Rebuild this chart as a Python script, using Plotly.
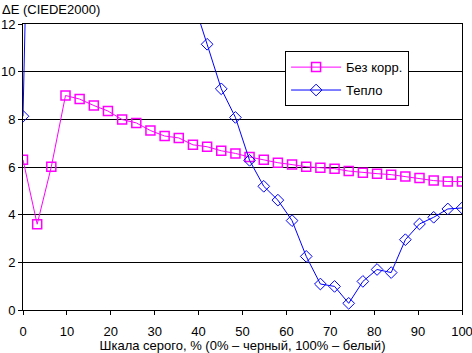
import plotly.graph_objects as go

x_gray = [0, 3.23, 6.45, 9.68, 12.9, 16.13, 19.35, 22.58, 25.81, 29.03, 32.26, 35.48,
          38.71, 41.94, 45.16, 48.39, 51.61, 54.84, 58.06, 61.29, 64.52, 67.74, 70.97,
          74.19, 77.42, 80.65, 83.87, 87.1, 90.32, 93.55, 96.77, 100]

bez_korr = [6.30, 3.60, 6.01, 9.00, 8.85, 8.58, 8.35, 7.99, 7.85, 7.53, 7.30, 7.22,
            6.93, 6.85, 6.68, 6.57, 6.42, 6.30, 6.18, 6.10, 6.01, 5.97, 5.93, 5.83,
            5.76, 5.72, 5.68, 5.60, 5.54, 5.43, 5.39, 5.39]

teplo = [8.13, 35.0, 33.0, 31.0, 29.0, 27.0, 25.0, 23.0, 21.0, 19.0, 17.0, 15.0,
         13.0, 11.15, 9.28, 8.08, 6.28, 5.19, 4.61, 3.75, 2.25, 1.09, 0.99, 0.28,
         1.20, 1.70, 1.57, 2.95, 3.61, 3.89, 4.24, 4.28]

names = ["Без корр.", "Тепло"]
y_title = "ΔE (CIEDE2000)"
x_title = "Шкала серого, % (0% – черный, 100% – белый)"

FONT = "Liberation Sans, Arial, sans-serif"

fig = go.Figure()
fig.add_trace(go.Scatter(
    x=x_gray, y=bez_korr, name=names[0], mode="lines+markers",
    line=dict(color="#FF00FF", width=1),
    marker=dict(symbol="square-open", size=9, color="#FF00FF", line=dict(width=1.5)),
    legendgroup="a"))
fig.add_trace(go.Scatter(
    x=x_gray, y=teplo, name=names[1], mode="lines+markers",
    line=dict(color="#0000FF", width=1),
    marker=dict(symbol="diamond-open", size=9, color="#0000FF", line=dict(width=1)),
    legendgroup="b"))

fig.update_layout(
    width=472, height=353,
    margin=dict(l=23, r=10, t=24, b=43, autoexpand=False),
    paper_bgcolor="white", plot_bgcolor="white",
    font=dict(family=FONT, size=13, color="black"),
    showlegend=True,
    legend=dict(x=0.597, y=0.905, xanchor="left", yanchor="top",
                bordercolor="black", borderwidth=1, bgcolor="white",
                font=dict(family=FONT, size=13, color="black"),
                tracegroupgap=3, traceorder="grouped", itemwidth=50),
    xaxis=dict(range=[0, 100], tickmode="array", tickvals=list(range(0, 101, 10)),
               showgrid=False, zeroline=False, showline=True, linecolor="black",
               linewidth=1, mirror=True, ticks="outside", ticklen=4, tickcolor="black",
               ticklabelstandoff=5, automargin=False, ticklabeloverflow="allow",
               title=dict(text=x_title, font=dict(family=FONT, size=13), standoff=10)),
    yaxis=dict(range=[0, 12], tickmode="array", tickvals=list(range(0, 13, 2)),
               showgrid=True, gridcolor="black", gridwidth=1, zeroline=False,
               showline=True, linecolor="black", linewidth=1, mirror=True,
               ticks="outside", ticklen=4, tickcolor="black", ticklabelstandoff=0,
               automargin=False, ticklabeloverflow="allow"),
    annotations=[dict(text=y_title, xref="paper", yref="paper", x=-23/439, y=1.0,
                      xanchor="left", yanchor="bottom", showarrow=False,
                      font=dict(family=FONT, size=13, color="black"), yshift=5)],
)

fig.write_html("out.html")
